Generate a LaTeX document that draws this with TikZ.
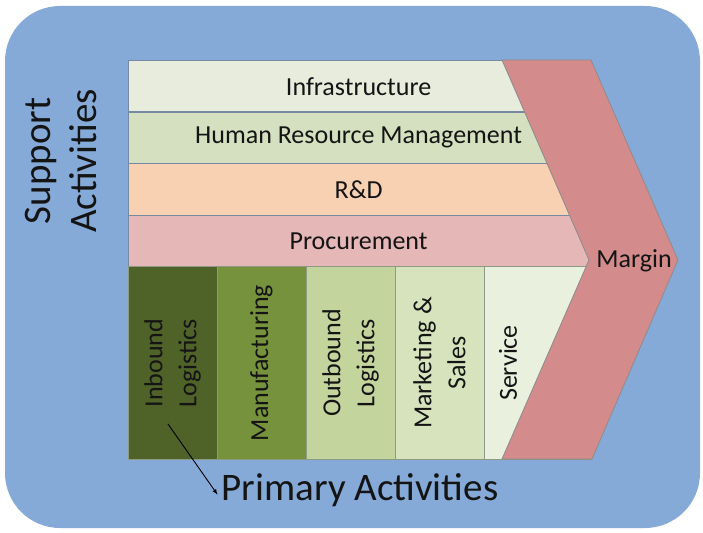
\documentclass[tikz,border=0pt]{standalone}
\usepackage{fontspec}
\setmainfont{Carlito}
\usetikzlibrary{positioning}
\definecolor{bgblue}{HTML}{86AAD8}
\definecolor{bandline}{HTML}{7589A0}
\definecolor{colline}{HTML}{8E9A84}
\definecolor{chevline}{HTML}{8C8C8C}
\definecolor{textdark}{HTML}{141414}
\definecolor{infracol}{HTML}{E7ECDD}
\definecolor{hrmcol}{HTML}{D5E0C0}
\definecolor{rdcol}{HTML}{F8D0B2}
\definecolor{procol}{HTML}{E5B7B7}
\definecolor{margincol}{HTML}{D38B8B}
\definecolor{inboundcol}{HTML}{4F6228}
\definecolor{manucol}{HTML}{76923C}
\definecolor{outboundcol}{HTML}{C3D59C}
\definecolor{marketcol}{HTML}{D6E3BC}
\definecolor{servicecol}{HTML}{EAF0DE}

\begin{document}
\begin{tikzpicture}[x=1pt, y=-1pt,
    band/.style={draw=bandline, line width=1.2pt, minimum width=461pt, minimum height=51.5pt,
        anchor=north west, inner sep=0pt, text=textdark, font=\fontsize{26}{30}\selectfont},
    primbox/.style={draw=colline, line width=1pt, minimum width=89pt, minimum height=193pt,
        anchor=north west, inner sep=0pt},
    primtext/.style={rotate=90, align=center, text=textdark, font=\fontsize{26}{34}\selectfont},
    bigtext/.style={text=textdark, font=\fontsize{39}{46}\selectfont}]
    \useasboundingbox (0,0) rectangle (703,532);
    \fill [bgblue, rounded corners=55pt] (5,6) rectangle (700,528);

    % support activities
    \node [band, fill=infracol] (infra) at (127.5,60) {Infrastructure};
    \node [band, fill=hrmcol] (hrm) at (127.5,111.5) {Human Resource Management};
    \node [band, fill=rdcol] (rd) at (127.5,163) {R\&D};
    \node [band, fill=procol] (procure) at (127.5,214.5) {Procurement};

    % primary activities
    \node [primbox, fill=inboundcol] (inbound) at (127.5,266) {};
    \node [primbox, fill=manucol] (manu) at (216.5,266) {};
    \node [primbox, fill=outboundcol] (outbound) at (305.5,266) {};
    \node [primbox, fill=marketcol] (market) at (394.5,266) {};
    \node [primbox, fill=servicecol, minimum width=106pt] (service) at (483.5,266) {};

    \node [primtext] (inboundtext) at (inbound) {Inbound\\Logistics};
    \node [primtext] (manutext) at (manu) {Manufacturing};
    \node [primtext] (outboundtext) at (outbound) {Outbound\\Logistics};
    \node [primtext] (markettext) at (market) {Marketing \&\\Sales};
    \node [primtext] (servicetext) at (508,363) {Service};

    % margin
    \draw [draw=chevline, line width=0.8pt, fill=margincol]
        (502,60) -- (591,60) -- (678,260) -- (592,459) -- (502,459) -- (589,260) -- cycle;
    \node [text=textdark, font=\fontsize{26}{30}\selectfont] (margin) at (634,261) {Margin};

    \node [bigtext, rotate=90, align=center] (support) at (61,161) {Support\\Activities};
    \node [bigtext, anchor=base, inner sep=4pt] (primary) at (360,500) {Primary Activities};

    \coordinate (pointer) at (168,424);
    \draw [line width=0.9pt, -latex] (pointer) -- ([yshift=-5pt]primary.west);
\end{tikzpicture}
\end{document}
